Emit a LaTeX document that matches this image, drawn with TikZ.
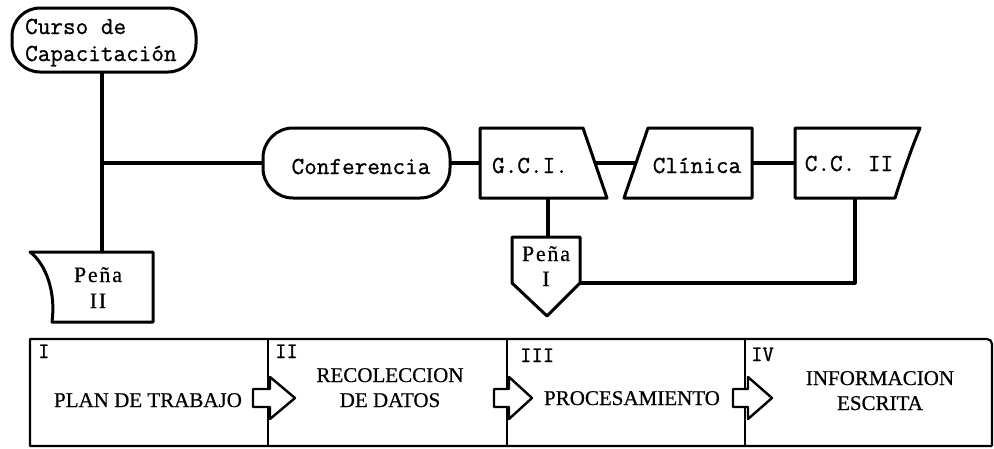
\documentclass[tikz,border=0pt]{standalone}
\usepackage{fontspec}
\setmainfont{Liberation Serif}[FakeBold=0.6]
\setmonofont{Latin Modern Mono}[FakeBold=1.0]
\newfontfamily\spacedserif{Liberation Serif}[LetterSpace=8,FakeBold=0.6]
\begin{document}
\begin{tikzpicture}[x=1pt,y=-1pt,line join=round,
  shp/.style={line width=3pt,fill=white},
  conn/.style={line width=3.2pt},
  barrow/.style={line width=2.4pt,fill=white},
  mono/.style={font=\ttfamily\fontsize{24.5}{28}\selectfont,inner sep=0pt,anchor=base},
  numl/.style={font=\ttfamily\fontsize{22}{24}\selectfont,inner sep=0pt,anchor=base west},
  ser/.style={font=\fontsize{21}{24}\selectfont,inner sep=0pt,anchor=base},
  pena/.style={font=\spacedserif\fontsize{22}{24}\selectfont,inner sep=0pt,anchor=base}]
\useasboundingbox (0,0) rectangle (994,448);

% connection points
\coordinate (cursoB) at (102,72);
\coordinate (penaIIT) at (102,252);
\coordinate (junc) at (102,163);
\coordinate (confL) at (263,163);
\coordinate (confR) at (450,163);
\coordinate (gciL) at (480,163);
\coordinate (gciR) at (595,163);
\coordinate (cliL) at (636,163);
\coordinate (cliR) at (752,163);
\coordinate (ccL) at (795,163);
\coordinate (gciB) at (548,198);
\coordinate (penaIT) at (548,237);
\coordinate (penaIR) at (580,283);
\coordinate (ccB) at (855,198);

% connectors
\draw[conn] (cursoB) -- (penaIIT);
\draw[conn] (junc) -- (confL);
\draw[conn] (confR) -- (gciL);
\draw[conn] (gciR) -- (cliL);
\draw[conn] (cliR) -- (ccL);
\draw[conn] (gciB) -- (penaIT);
\draw[conn] (penaIR) -| (ccB);

% shapes
\draw[shp,rounded corners=28] (12,8) rectangle (196,72);
\draw[shp] (30,252) -- (153,252) -- (153,322) -- (52,322)
  .. controls (56,292) and (46,264) .. (30,252) -- cycle;
\draw[shp,rounded corners=30] (263,128) rectangle (450,198);
\draw[shp] (480,128) -- (583,128) -- (607,198) -- (480,198) -- cycle;
\draw[shp] (648,128) -- (752,128) -- (752,198) -- (624,198) -- cycle;
\draw[shp] (795,128) -- (920,128) .. controls (910,152) and (900,182) .. (895,198) -- (795,198) -- cycle;
\draw[shp] (512,237) -- (580,237) -- (580,283) -- (547,316) -- (512,283) -- cycle;

% texts of upper chart
\node[mono,anchor=base west] (curso1) at (25,34) {Curso de};
\node[mono,anchor=base west] (curso2) at (25,61) {Capacitación};
\node[mono] (conf) at (361,174) {Conferencia};
\node[mono] (gci) at (530,173) {G.C.I.};
\node[mono] (cli) at (697,173) {Clínica};
\node[mono] (cc) at (849,171) {C.C. II};
\node[pena] (pena2a) at (98,282) {Peña};
\node[pena] (pena2b) at (98,308) {II};
\node[pena] (pena1a) at (546,261) {Peña};
\node[pena] (pena1b) at (546,286) {I};

% lower band
\draw[line width=2.2pt] (992,446) -- (30,446) -- (30,339) [rounded corners=5] -- (992,339) -- (992,446);
\draw[line width=1.8pt] (268,339) -- (268,446);
\draw[line width=1.8pt] (507,339) -- (507,446);
\draw[line width=1.8pt] (745,339) -- (745,446);

\draw[barrow] (253,389) -- (270,389) -- (270,377) -- (295,398) -- (270,419) -- (270,407) -- (253,407) -- cycle;
\draw[barrow] (494,389) -- (509,389) -- (509,377) -- (532,398) -- (509,419) -- (509,407) -- (494,407) -- cycle;
\draw[barrow] (733,389) -- (748,389) -- (748,377) -- (772,398) -- (748,419) -- (748,407) -- (733,407) -- cycle;

\node[numl] (n1) at (38,358) {I};
\node[numl] (n2) at (275,358) {II};
\node[numl] (n3) at (520,362) {III};
\node[numl] (n4) at (751,361) {IV};

\node[ser] (t1) at (148,407) {PLAN DE TRABAJO};
\node[ser] (t2a) at (390,382) {RECOLECCION};
\node[ser] (t2b) at (390,407) {DE DATOS};
\node[ser] (t3) at (632,405) {PROCESAMIENTO};
\node[ser] (t4a) at (880,385) {INFORMACION};
\node[ser] (t4b) at (880,410) {ESCRITA};
\end{tikzpicture}
\end{document}
